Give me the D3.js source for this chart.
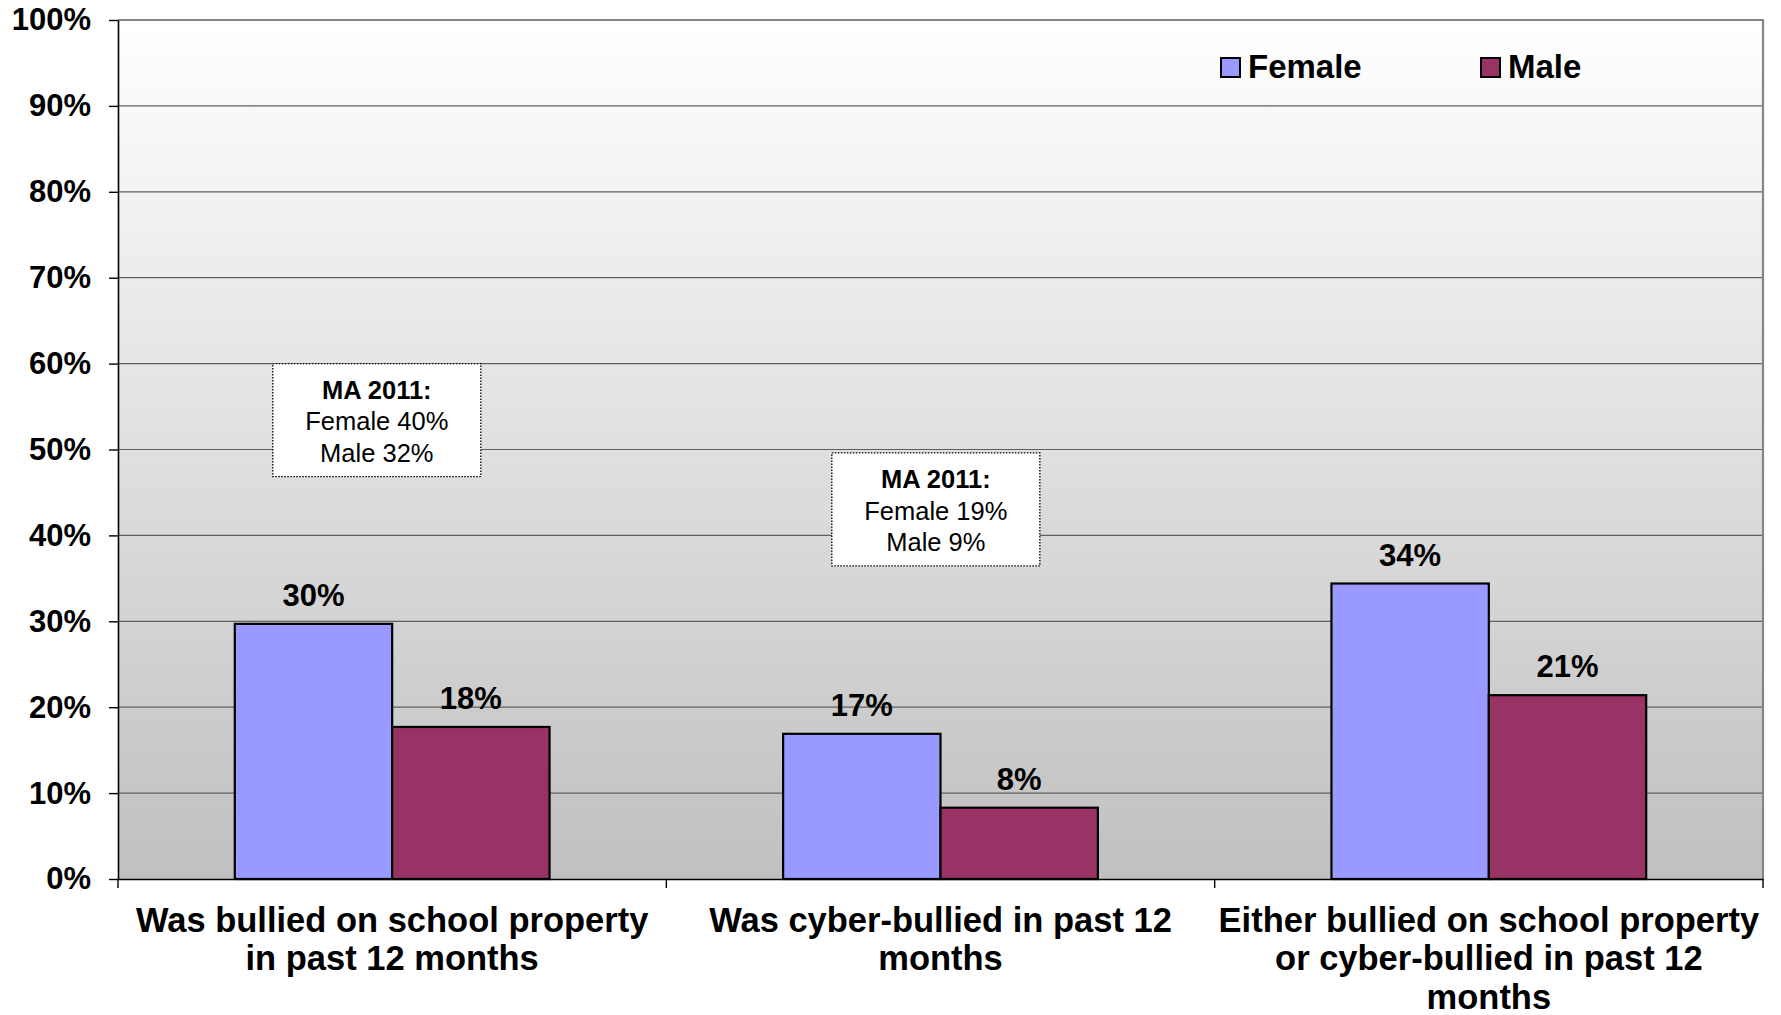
<!DOCTYPE html>
<html>
<head>
<meta charset="utf-8">
<script src="https://cdn.jsdelivr.net/npm/d3@7"></script>
<style>
  body { margin: 0; background: #fff; }
  svg { display: block; font-family: "Liberation Sans", Arial, sans-serif; }
</style>
</head>
<body>
<div id="chart"></div>
<script>
// data
var categories = [
    "Was bullied on school property in past 12 months",
    "Was cyber-bullied in past 12 months",
    "Either bullied on school property or cyber-bullied in past 12 months"
];
var seriesNames = ["Female", "Male"];
var femaleValues = [29.7, 16.9, 34.4];
var maleValues = [17.7, 8.3, 21.4];
var yTicks = [0, 10, 20, 30, 40, 50, 60, 70, 80, 90, 100];
var noteLines = [
    ["MA 2011:", "Female 40%", "Male 32%"],
    ["MA 2011:", "Female 19%", "Male 9%"]
];
var colors = ["#9999ff", "#993366"];

var W = 1781, H = 1015;
var margin = {left: 118, right: 18, top: 20, bottom: 136};
var width = W - margin.left - margin.right,
    height = H - margin.top - margin.bottom;

var svg = d3.select("#chart").append("svg")
    .attr("width", W)
    .attr("height", H);

var defs = svg.append("defs");
var grad = defs.append("linearGradient")
    .attr("id", "bg")
    .attr("x1", 0).attr("y1", 0).attr("x2", 0).attr("y2", 1);
grad.append("stop").attr("offset", "0%").attr("stop-color", "#ffffff");
grad.append("stop").attr("offset", "100%").attr("stop-color", "#c0c0c0");

var g = svg.append("g")
    .attr("transform", "translate(" + margin.left + "," + margin.top + ")");

// scales
var x0 = d3.scaleBand().domain(categories).range([0, width]).padding(0);
var gap = x0.bandwidth() * 0.213;
var x1 = d3.scaleBand().domain(seriesNames).range([gap, x0.bandwidth() - gap]).padding(0);
var y = d3.scaleLinear().domain([0, 100]).range([height, 0]);
var z = d3.scaleOrdinal().domain(seriesNames).range(colors);

// plot background
g.append("rect")
    .attr("width", width)
    .attr("height", height)
    .attr("fill", "url(#bg)");

// gridlines
g.append("g")
    .selectAll("line")
    .data(yTicks.filter(function(d) { return d > 0 && d < 100; }))
    .enter().append("line")
    .attr("x1", 0).attr("x2", width)
    .attr("y1", function(d) { return y(d); })
    .attr("y2", function(d) { return y(d); })
    .attr("stroke", "#606060")
    .attr("stroke-width", 1.2);

// grey frame top / right
g.append("path")
    .attr("d", "M0," + y(100) + "H" + width + "V" + height)
    .attr("fill", "none")
    .attr("stroke", "#858585")
    .attr("stroke-width", 2.2);

// bars
var rows = categories.map(function(c, i) {
    return {cat: c, values: [
        {key: "Female", value: femaleValues[i]},
        {key: "Male", value: maleValues[i]}
    ]};
});

var groups = g.append("g")
    .selectAll("g")
    .data(rows)
    .enter().append("g")
    .attr("transform", function(d) { return "translate(" + x0(d.cat) + ",0)"; });

groups.selectAll("rect")
    .data(function(d) { return d.values; })
    .enter().append("rect")
    .attr("x", function(d) { return x1(d.key); })
    .attr("y", function(d) { return y(d.value); })
    .attr("width", x1.bandwidth())
    .attr("height", function(d) { return height - y(d.value); })
    .attr("fill", function(d) { return z(d.key); })
    .attr("stroke", "#000")
    .attr("stroke-width", 2.2);

// value labels
groups.selectAll("text.val")
    .data(function(d) { return d.values; })
    .enter().append("text")
    .attr("class", "val")
    .attr("x", function(d) { return x1(d.key) + x1.bandwidth() / 2; })
    .attr("y", function(d) { return y(d.value) - 18; })
    .attr("text-anchor", "middle")
    .attr("font-size", 31)
    .attr("font-weight", "bold")
    .attr("fill", "#000")
    .text(function(d) { return Math.round(d.value) + "%"; });

// Y axis
var yAxis = g.append("g")
    .call(d3.axisLeft(y).tickValues(yTicks).tickSize(9).tickSizeOuter(0).tickPadding(18)
        .tickFormat(function(d) { return d + "%"; }));
yAxis.select(".domain").attr("stroke", "#000").attr("stroke-width", 1.6);
yAxis.selectAll(".tick line").attr("stroke", "#000").attr("stroke-width", 1.4);
yAxis.selectAll("text")
    .attr("font-size", 31)
    .attr("font-weight", "bold")
    .attr("font-family", "'Liberation Sans', Arial, sans-serif")
    .attr("fill", "#000");

// X axis
var xAxis = g.append("g")
    .attr("transform", "translate(0," + height + ")")
    .call(d3.axisBottom(x0).tickSize(0).tickSizeOuter(0).tickPadding(0));
xAxis.select(".domain").attr("stroke", "#000").attr("stroke-width", 1.6);
xAxis.selectAll(".tick text")
    .attr("font-size", 34.5)
    .attr("font-weight", "bold")
    .attr("font-family", "'Liberation Sans', Arial, sans-serif")
    .attr("fill", "#000")
    .attr("y", 52.5)
    .attr("dy", 0)
    .call(wrap, x0.bandwidth() - 2);

// boundary ticks under the x axis
var bounds = categories.map(function(c) { return x0(c); }).concat([width]);
xAxis.selectAll("line.bound")
    .data(bounds)
    .enter().append("line")
    .attr("class", "bound")
    .attr("x1", function(d) { return d; })
    .attr("x2", function(d) { return d; })
    .attr("y1", 0)
    .attr("y2", 9)
    .attr("stroke", "#000")
    .attr("stroke-width", 1.4);

function wrap(text, maxW) {
    text.each(function() {
        var t = d3.select(this),
            words = t.text().split(/\s+/),
            line = [],
            lineNo = 0,
            yy = t.attr("y"),
            tspan = t.text(null).append("tspan").attr("x", 0).attr("y", yy);
        words.forEach(function(w) {
            line.push(w);
            tspan.text(line.join(" "));
            if (tspan.node().getComputedTextLength() > maxW && line.length > 1) {
                line.pop();
                tspan.text(line.join(" "));
                line = [w];
                lineNo++;
                tspan = t.append("tspan").attr("x", 0).attr("y", +yy + lineNo * 38.6).text(w);
            }
        });
    });
}

// MA 2011 note boxes
var noteSpots = [
    {cat: categories[0], frac: 0.472, top: 60},
    {cat: categories[1], frac: 0.4915, top: 49.6}
];
var boxW = 208, boxH = 113;
noteLines.forEach(function(lines, i) {
    var s = noteSpots[i];
    var cx = x0(s.cat) + x0.bandwidth() * s.frac;
    var top = y(s.top);
    var nb = g.append("g");
    nb.append("rect")
        .attr("x", cx - boxW / 2)
        .attr("y", top)
        .attr("width", boxW)
        .attr("height", boxH)
        .attr("fill", "#fff")
        .attr("stroke", "#000")
        .attr("stroke-width", 1.3)
        .attr("stroke-dasharray", "1.5,1.5");
    nb.selectAll("text")
        .data(lines)
        .enter().append("text")
        .attr("x", cx)
        .attr("y", function(d, j) { return top + 35 + j * 31.6; })
        .attr("text-anchor", "middle")
        .attr("font-size", 25.5)
        .attr("font-weight", function(d, j) { return j === 0 ? "bold" : "normal"; })
        .attr("fill", "#000")
        .text(function(d) { return d; });
});

// Legend
var legend = svg.append("g")
    .selectAll("g")
    .data(seriesNames)
    .enter().append("g")
    .attr("transform", function(d, i) { return "translate(" + (1221 + i * 260) + ",58)"; });

legend.append("rect")
    .attr("width", 19)
    .attr("height", 19)
    .attr("fill", z)
    .attr("stroke", "#000")
    .attr("stroke-width", 2);

legend.append("text")
    .attr("x", 27)
    .attr("y", 20)
    .attr("font-size", 33)
    .attr("font-weight", "bold")
    .attr("fill", "#000")
    .text(function(d) { return d; });
</script>
</body>
</html>
